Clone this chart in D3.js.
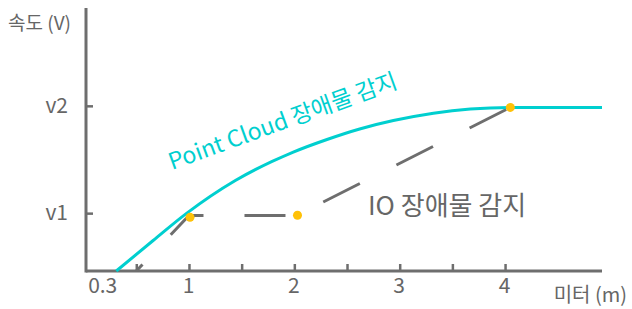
<!DOCTYPE html>
<html>
<head>
<meta charset="utf-8">
<script src="https://cdn.jsdelivr.net/npm/d3@7"></script>
<style>
  body { margin: 0; background: #fff; }
  svg text { font-family: "Noto Sans CJK KR", "Noto Sans", sans-serif; }
</style>
</head>
<body>
<svg id="chart" width="632" height="309"></svg>
<script>
// Point Cloud 장애물 감지 curve
const cloudX = [0.31, 0.66, 0.98, 1.44, 1.99, 2.31, 2.62, 2.94, 3.32, 3.67, 4.05, 4.92];
const cloudY = [0, 0.29, 0.55, 0.86, 1.13, 1.25, 1.35, 1.43, 1.50, 1.54, 1.555, 1.555];

// IO 장애물 감지 dashed line
const ioX = [0.5, 1.0, 2.02, 4.05];
const ioY = [0, 0.527, 0.527, 1.555];

// yellow markers
const dotX = [1.01, 2.03, 4.05];
const dotY = [0.51, 0.53, 1.555];

// axes
const xTickVals = [0.5, 1, 1.5, 2, 2.5, 3, 3.5, 4];
const xLabelVals = [0.3, 1, 2, 3, 4];
const yTickVals = [0.55, 1.57];
const yTickLabels = ["v1", "v2"];

const svg = d3.select("#chart");
const grey = "#6e6e6e";
const cyan = "#00cfcf";

const x = d3.scaleLinear().domain([0, 4.92]).range([83.6, 602]);
const y = d3.scaleLinear().domain([0, 2.5]).range([271, 8]);

// x axis line + ticks
const xAxis = svg.append("g")
    .attr("transform", "translate(0,271)")
    .call(d3.axisBottom(x).tickValues(xTickVals).tickSize(-7).tickSizeOuter(0).tickFormat(""));
xAxis.select(".domain").remove();
xAxis.selectAll("line").attr("stroke", grey).attr("stroke-width", 2.5);
svg.append("line")
    .attr("x1", 86).attr("x2", 602).attr("y1", 271).attr("y2", 271)
    .attr("stroke", grey).attr("stroke-width", 3);

// x labels
const xLab = svg.append("g")
    .attr("transform", "translate(0,271)")
    .call(d3.axisBottom(x).tickValues(xLabelVals).tickSize(0)
      .tickFormat(d => d === 0.3 ? "0.3" : d3.format("d")(d)));
xLab.select(".domain").remove();
xLab.selectAll("text")
    .attr("font-size", 21).attr("fill", "#666").attr("dy", 19)
    .attr("font-family", "Noto Sans CJK KR")
    .attr("dx", d => d === 0.3 ? -13 : -1);

// y axis
const yAxis = svg.append("g")
    .attr("transform", "translate(86,0)")
    .call(d3.axisLeft(y).tickValues(yTickVals).tickSize(-7).tickPadding(18)
      .tickFormat((d, i) => yTickLabels[i]));
yAxis.select(".domain").remove();
yAxis.selectAll("line").attr("stroke", grey).attr("stroke-width", 2.5);
yAxis.selectAll("text").attr("font-size", 21).attr("fill", "#666")
    .attr("font-family", "Noto Sans CJK KR");
svg.append("line")
    .attr("x1", 86).attr("x2", 86).attr("y1", 8).attr("y2", 272.5)
    .attr("stroke", grey).attr("stroke-width", 3);

// axis titles
svg.append("text").attr("x", 8).attr("y", 30)
    .attr("font-size", 19).attr("fill", "#666").text("속도 (V)");
svg.append("text").attr("x", 627).attr("y", 302).attr("text-anchor", "end")
    .attr("font-size", 20).attr("fill", "#666").text("미터 (m)");

// IO dashed line
svg.append("path")
    .datum(ioX.map((d, i) => [d, ioY[i]]))
    .attr("d", d3.line().x(d => x(d[0])).y(d => y(d[1])))
    .attr("fill", "none").attr("stroke", grey).attr("stroke-width", 3)
    .attr("stroke-dasharray", "41,41").attr("stroke-dashoffset", 32);

// point cloud curve
svg.append("path")
    .datum(cloudX.map((d, i) => [d, cloudY[i]]))
    .attr("d", d3.line().curve(d3.curveMonotoneX).x(d => x(d[0])).y(d => y(d[1])))
    .attr("fill", "none").attr("stroke", cyan).attr("stroke-width", 3);

// dots
svg.selectAll("circle.dot")
    .data(dotX.map((d, i) => [d, dotY[i]]))
    .enter().append("circle")
    .attr("class", "dot")
    .attr("cx", d => x(d[0])).attr("cy", d => y(d[1]))
    .attr("r", 4.5).attr("fill", "#ffc107");

// labels
svg.append("text")
    .attr("transform", "translate(172,170) rotate(-20)")
    .attr("font-size", 23).attr("fill", cyan).text("Point Cloud 장애물 감지");
svg.append("text").attr("x", 368).attr("y", 215)
    .attr("font-size", 26).attr("fill", "#666")
    .text("IO 장애물 감지");
</script>
</body>
</html>
